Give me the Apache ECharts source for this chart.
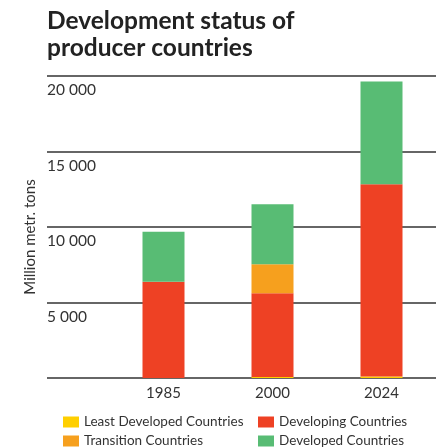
<!DOCTYPE html>
<html>
<head>
<meta charset="utf-8">
<script src="https://cdn.jsdelivr.net/npm/echarts@6/dist/echarts.min.js"></script>
<style>html,body{margin:0;padding:0;background:#fff}#c{width:436px;height:447px}</style>
</head>
<body>
<div id="c"></div>
<script>
const categories = ['1985', '2000', '2024'];
const leastDeveloped = [0, 60, 100];
const developing = [6370, 5560, 12730];
const transition = [0, 1920, 0];
const developed = [3310, 3970, 6810];
const yTicks = [0, 5000, 10000, 15000, 20000];

const FONT = 'Lato, "Open Sans", sans-serif';
const fmt = v => v === 0 ? '' : String(v).replace(/\B(?=(\d{3})+(?!\d))/g, ' ');

const chart = echarts.init(document.getElementById('c'), null, {renderer: 'canvas'});
const colors = {ld: '#FFCF00', dv: '#EE4124', tr: '#F6A01E', dd: '#58BC74'};
const mkSeries = (name, data, color) => ({
  name, type: 'bar', stack: 'total', xAxisIndex: 1, yAxisIndex: 1,
  data, barWidth: 42, itemStyle: {color}, z: 3
});
const legendText = {fontFamily: FONT, fontSize: 13.5, color: '#333', lineHeight: 16};
const mkLegend = (left, top, name) => ({
  orient: 'horizontal', left, top, padding: 0, itemWidth: 16, itemHeight: 11,
  data: [name], textStyle: legendText, icon: 'rect'
});

chart.setOption({
  animation: false,
  textStyle: {fontFamily: FONT},
  title: {
    text: 'Development status of\nproducer countries',
    left: 47, top: 8, padding: 0,
    textStyle: {fontFamily: FONT, fontSize: 24.5, fontWeight: 'bold', color: '#222', lineHeight: 27}
  },
  graphic: [{
    type: 'text', x: 30, y: 237, rotation: Math.PI / 2,
    style: {text: 'Million metr. tons', fontFamily: FONT, fontSize: 15, fill: '#333', align: 'center', verticalAlign: 'middle'}
  }],
  legend: [
    mkLegend(63, 414, 'Least Developed Countries'),
    mkLegend(63, 433, 'Transition Countries'),
    mkLegend(258, 414, 'Developing Countries'),
    mkLegend(258, 433, 'Developed Countries')
  ],
  grid: [
    {left: 47, right: 0, top: 76, bottom: 69},
    {left: 109, width: 332, top: 76, bottom: 69}
  ],
  xAxis: [
    {gridIndex: 0, type: 'value', show: false, min: 0, max: 1},
    {gridIndex: 1, type: 'category', data: categories,
     axisLine: {show: false}, axisTick: {show: false},
     axisLabel: {fontFamily: FONT, fontSize: 15, color: '#333', margin: 8}}
  ],
  yAxis: [
    {gridIndex: 0, type: 'value', min: yTicks[0], max: yTicks[yTicks.length - 1], interval: 5000,
     axisLine: {show: false}, axisTick: {show: false},
     splitLine: {show: true, lineStyle: {color: '#333', width: 1.5}},
     axisLabel: {inside: true, formatter: fmt, fontFamily: FONT, fontSize: 15.5, color: '#333',
       verticalAlign: 'top', align: 'left', padding: [6, 0, 0, 0], margin: 0}},
    {gridIndex: 1, type: 'value', min: yTicks[0], max: yTicks[yTicks.length - 1], interval: 5000, show: false}
  ],
  series: [
    mkSeries('Least Developed Countries', leastDeveloped, colors.ld),
    mkSeries('Developing Countries', developing, colors.dv),
    mkSeries('Transition Countries', transition, colors.tr),
    mkSeries('Developed Countries', developed, colors.dd)
  ]
});
</script>
</body>
</html>
